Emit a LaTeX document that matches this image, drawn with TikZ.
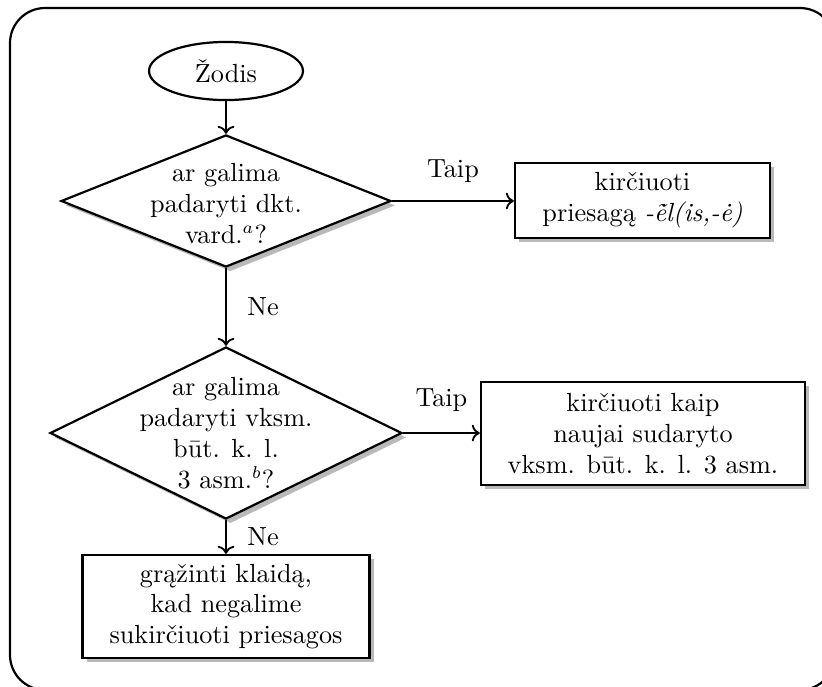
\documentclass[tikz,border=0pt]{standalone}
\usetikzlibrary{shapes.geometric,shadows,arrows.meta}
\begin{document}
\begin{tikzpicture}[x=0.408pt,y=-0.408pt,
  every node/.style={font=\fontsize{10.7}{12.6}\selectfont},
  shad/.style={drop shadow={shadow xshift=1.8pt,shadow yshift=-1.8pt,fill=black!55}},
  procbox/.style={rectangle, draw, line width=1pt, fill=white, align=center, shad, inner sep=0pt},
  decision/.style={diamond, draw, line width=0.9pt, fill=white, shad, inner sep=0pt},
  startnode/.style={ellipse, draw, line width=0.9pt, fill=white, inner sep=0pt},
  arr/.style={->, line width=0.75pt},
  lbl/.style={inner sep=3.33pt}
]
\useasboundingbox (0,0) rectangle (822,686);
\draw[line width=0.9pt, rounded corners=14.3pt] (10,8) rectangle (835,690);

\node[startnode, minimum width=62.8pt, minimum height=23.7pt] (start) at (226,71) {Žodis};

\node[decision, minimum width=134.6pt, minimum height=53.9pt,
  label={[align=center, yshift=-1pt]center:ar galima\\padaryti dkt.\\vard.$^a$?}] (d1) at (226,201) {};

\node[procbox, minimum width=104pt, minimum height=30.6pt] (b1) at (642.5,200.5)
  {kirčiuoti\\priesagą \textit{-\~{\.e}l(is,-ė)}};

\node[decision, minimum width=143.6pt, minimum height=70.2pt,
  label={[align=center]center:ar galima\\padaryti vksm.\\būt. k. l.\\3 asm.$^b$?}] (d2) at (226,433) {};

\node[procbox, minimum width=132.2pt, minimum height=42pt] (b2) at (643,433.5)
  {kirčiuoti kaip\\naujai sudaryto\\vksm. būt. k. l. 3 asm.};

\node[procbox, minimum width=117pt, minimum height=42pt] (b3) at (226,606.5)
  {grąžinti klaidą,\\kad negalime\\sukirčiuoti priesagos};

\draw[arr] (start.south) -- (d1.north);
\draw[arr] (d1.east) -- node[lbl, midway, above=4pt] {Taip} (d1.east -| b1.west);
\draw[arr] (d1.south) -- node[lbl, midway, right=5pt] {Ne} (d2.north);
\draw[arr] (d2.east) -- node[lbl, midway, above=5pt] {Taip} (d2.east -| b2.west);
\draw[arr] (d2.south) -- node[lbl, midway, right=5pt] {Ne} (b3.north);
\end{tikzpicture}
\end{document}
